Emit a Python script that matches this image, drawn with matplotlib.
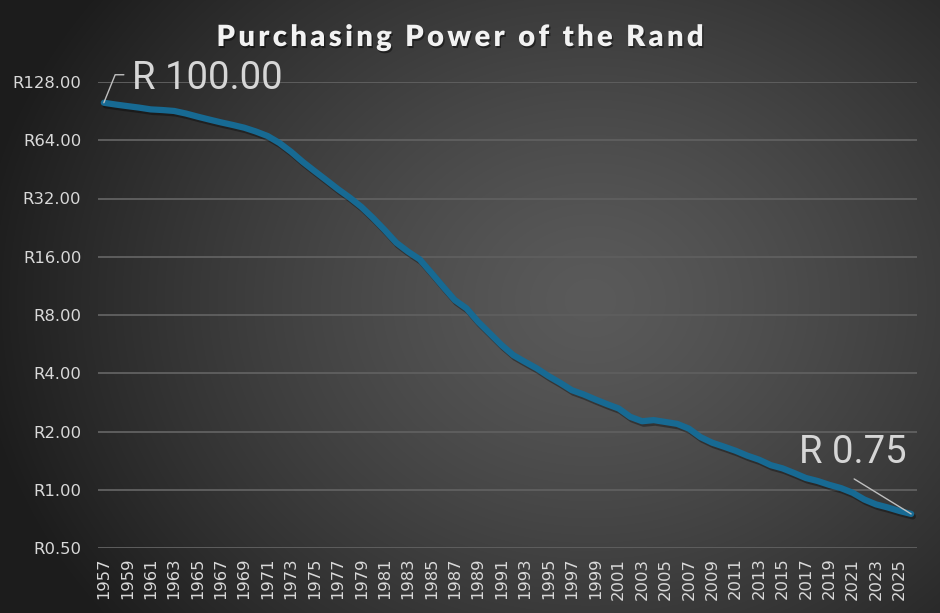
import numpy as np
import matplotlib
matplotlib.use("Agg")
import matplotlib.pyplot as plt
import matplotlib.patheffects as pe
from matplotlib.ticker import FixedLocator, NullLocator
from matplotlib.font_manager import FontProperties

years = list(range(1957, 2027))
values = [100.00, 97.9, 96.1, 94.4, 92.4, 91.7, 90.7, 88.0, 84.8, 81.9,
          79.2, 76.8, 74.3, 71.0, 67.3, 62.0, 55.8, 49.5, 44.4, 39.9,
          35.8, 32.4, 29.0, 25.4, 22.0, 18.9, 17.0, 15.5, 13.2, 11.2,
          9.55, 8.65, 7.37, 6.42, 5.59, 4.96, 4.58, 4.24, 3.87, 3.57,
          3.27, 3.11, 2.93, 2.77, 2.63, 2.38, 2.26, 2.29, 2.24, 2.19,
          2.07, 1.87, 1.75, 1.67, 1.59, 1.50, 1.43, 1.34, 1.29, 1.22,
          1.15, 1.11, 1.06, 1.02, 0.965, 0.89, 0.84, 0.81, 0.777, 0.75]
y_ticks = [0.5, 1, 2, 4, 8, 16, 32, 64, 128]
y_tick_labels = ["R0.50", "R1.00", "R2.00", "R4.00", "R8.00", "R16.00", "R32.00", "R64.00", "R128.00"]
x_tick_years = list(range(1957, 2027, 2))
title = "Purchasing Power of the Rand"
start_label = "R 100.00"
end_label = "R 0.75"

W, H = 940, 613
DPI = 100
PT = 72.0 / DPI  # points per pixel
fig = plt.figure(figsize=(W / DPI, H / DPI), dpi=DPI)

# radial gradient background
bg = fig.add_axes([0, 0, 1, 1])
yy, xx = np.mgrid[0:H, 0:W]
cx, cy = 590, 300
r = np.sqrt(((xx - cx) / 620.0) ** 2 + ((yy - cy) / 520.0) ** 2)
r = np.clip(r, 0, 1)
inner = np.array([0x5a, 0x5a, 0x5a]) / 255.0
outer = np.array([0x1c, 0x1c, 0x1c]) / 255.0
t = r[..., None] ** 1.3
img = inner * (1 - t) + outer * t
bg.imshow(img, aspect="auto", extent=[0, 1, 0, 1], origin="upper")
bg.set_axis_off()

ax = fig.add_axes([98 / W, 1 - 548 / H, (917 - 98) / W, (548 - 82) / H])
ax.set_facecolor("none")
ax.set_yscale("log", base=2)
ax.set_ylim(0.5, 128)
ax.set_xlim(-0.5, len(years) - 0.5)

xs = np.arange(len(years))
ax.plot(xs, values, color="#176a93", lw=4.5, solid_capstyle="round", solid_joinstyle="round",
        path_effects=[pe.SimpleLineShadow(offset=(1.2, -1.8), shadow_color="black", alpha=0.35),
                      pe.Normal()], zorder=3)

tick_font = "DejaVu Sans"
ax.yaxis.set_major_locator(FixedLocator(y_ticks))
ax.yaxis.set_minor_locator(NullLocator())
ax.set_yticklabels(y_tick_labels)
ax.set_xticks([years.index(y) for y in x_tick_years])
ax.set_xticklabels([str(y) for y in x_tick_years], rotation=90)
ax.tick_params(axis="both", length=0, colors="#d9d9d9", labelsize=11.8)
ax.tick_params(axis="y", pad=12)
ax.tick_params(axis="x", pad=7)
for lab in ax.get_xticklabels() + ax.get_yticklabels():
    lab.set_fontfamily(tick_font)
ax.grid(axis="y", color="#5e5e5e", lw=1.4, zorder=1)
ax.grid(axis="x", visible=False)
for s in ax.spines.values():
    s.set_visible(False)

# annotations
lbl_kw = dict(fontsize=27.5, color="#d6d6d6", family="Roboto", textcoords="offset points", zorder=6)
p0 = (0, values[0])
p1 = (len(years) - 1, values[-1])
ax.annotate(start_label, xy=p0, xytext=(28 * PT, 13.5 * PT), ha="left", va="baseline", **lbl_kw)
ax.annotate("", xy=p0, xytext=(20 * PT, 28 * PT), textcoords="offset points",
            arrowprops=dict(arrowstyle="-", color="#bfbfbf", lw=1.0, shrinkA=0, shrinkB=0,
                            connectionstyle="angle,angleA=0,angleB=68,rad=0"))
ax.annotate(end_label, xy=p1, xytext=(-58 * PT, 51 * PT), ha="center", va="baseline", **lbl_kw)
ax.annotate("", xy=p1, xytext=(-57 * PT, 35 * PT), textcoords="offset points",
            arrowprops=dict(arrowstyle="-", color="#bfbfbf", lw=1.0, shrinkA=0, shrinkB=0))

# letter-spaced title
title_fp = FontProperties(family="Lato", weight="heavy", size=21)
renderer = fig.canvas.get_renderer()

def text_w(s):
    if not s:
        return 0.0
    w, h, d = renderer.get_text_width_height_descent(s, title_fp, ismath=False)
    return w

target_w = 487.0
natural_w = text_w(title)
tracking = (target_w - natural_w) / (len(title) - 1)
x_left = 460 - target_w / 2
y_base = H - 46
for i, ch in enumerate(title):
    if ch == " ":
        continue
    off = text_w(title[:i + 1]) - text_w(ch)
    fig.text((x_left + off + tracking * i) / W, y_base / H, ch, fontproperties=title_fp,
             color="#f2f2f2", ha="left", va="baseline",
             path_effects=[pe.withSimplePatchShadow(offset=(1, -1.5), shadow_rgbFace="black", alpha=0.45)])

fig.savefig("out.png", dpi=DPI)
